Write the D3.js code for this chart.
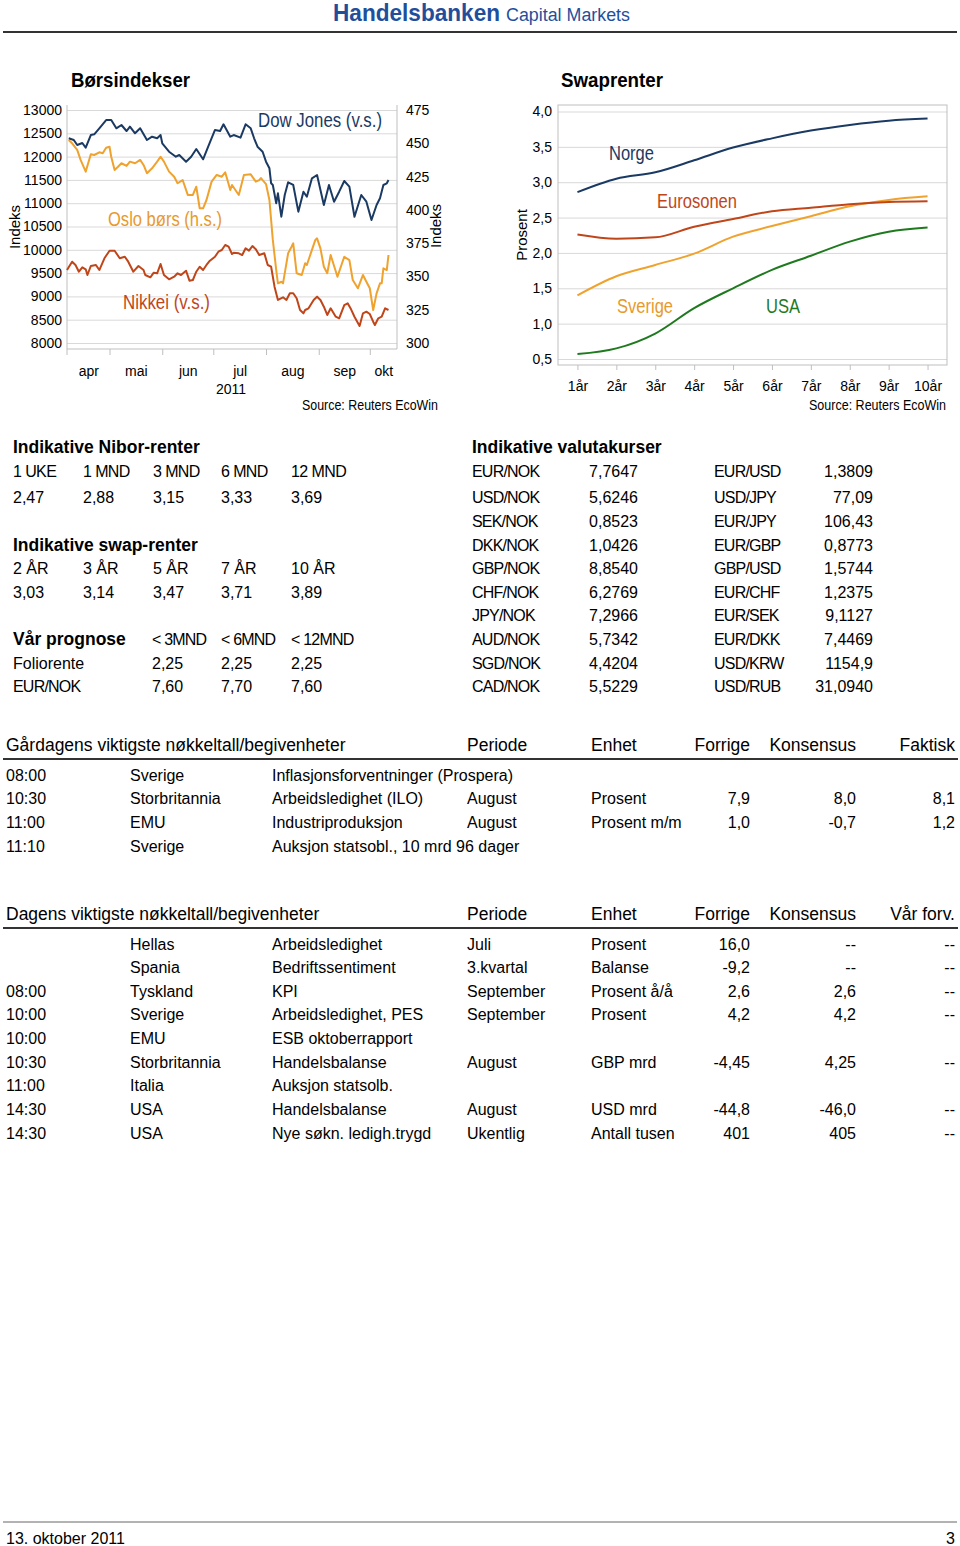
<!DOCTYPE html>
<html><head><meta charset="utf-8">
<script src="https://cdn.jsdelivr.net/npm/d3@7"></script>
<style>body{margin:0;background:#fff} svg{display:block}</style>
</head><body><script>
// ---------------- DATA ----------------
const monthNames = ["jan","feb","mar","apr","mai","jun","jul","aug","sep","okt","nov","des"];
const leftTicks = [8000,8500,9000,9500,10000,10500,11000,11500,12000,12500,13000];
const rightTicks = [300,325,350,375,400,425,450,475];

const dowJones = [["04-07",12393],["04-10",12356],["04-12",12249],["04-15",12292],["04-17",12191],["04-20",12463],["04-22",12478],["04-25",12607],["04-29",12785],["05-02",12785],["05-05",12607],["05-08",12678],["05-11",12549],["05-13",12642],["05-16",12500],["05-19",12607],["05-23",12356],["05-26",12427],["05-29",12393],["05-31",12463],["06-01",12285],["06-05",12105],["06-09",11998],["06-11",12034],["06-15",11891],["06-18",11998],["06-21",12163],["06-25",11942],["06-28",12212],["07-02",12571],["07-05",12549],["07-07",12693],["07-11",12427],["07-13",12463],["07-17",12406],["07-20",12693],["07-23",12607],["07-25",12393],["07-27",12212],["07-30",12105],["08-01",11891],["08-03",11749],["08-04",11427],["08-05",11391],["08-07",10998],["08-08",11212],["08-10",10710],["08-12",11176],["08-14",11448],["08-17",11391],["08-20",10818],["08-23",11247],["08-25",11139],["08-28",11534],["08-31",11605],["09-04",10961],["09-07",11391],["09-10",11032],["09-13",11247],["09-16",11476],["09-19",11354],["09-22",10710],["09-26",11176],["09-29",11032],["10-02",10639],["10-05",10961],["10-07",11105],["10-09",11391],["10-11",11427],["10-12",11498]];

const osloBors = [["04-07",452.5],["04-09",450],["04-12",445],["04-14",437.5],["04-17",428.7],["04-20",441.7],["04-22",441.2],["04-25",443.2],["04-27",442.5],["04-29",446.7],["05-01",447.4],["05-02",439.9],["05-04",430],["05-06",432.4],["05-08",435],["05-11",433],["05-13",436.2],["05-16",435],["05-19",437.5],["05-21",433.7],["05-23",427.5],["05-26",431.2],["05-29",436.2],["05-31",439.9],["06-02",436.2],["06-05",428.7],["06-08",424.9],["06-10",420],["06-13",422.4],["06-16",411.2],["06-19",411.2],["06-21",417.4],["06-23",401.2],["06-25",401.2],["06-27",407.4],["06-30",421.2],["07-03",426.2],["07-06",424.9],["07-08",428.2],["07-11",414.9],["07-12",418.7],["07-16",411.2],["07-19",426.2],["07-23",426.7],["07-26",421.2],["07-28",422.4],["07-29",423.9],["08-01",419.4],["08-03",407.4],["08-05",377.4],["08-07",354.8],["08-08",344.8],["08-10",346],["08-11",344.8],["08-14",367.4],["08-16",372.3],["08-17",374.9],["08-19",352.4],["08-22",351.1],["08-24",359.9],["08-25",358.6],["08-28",369.9],["08-30",377.4],["08-31",378.6],["09-02",371.1],["09-04",357.3],["09-06",352.4],["09-08",366.1],["09-12",349.8],["09-16",364.8],["09-19",362.3],["09-21",347.3],["09-24",341.1],["09-27",351.1],["09-29",346],["10-01",341.1],["10-03",324.8],["10-05",337.3],["10-07",344.8],["10-08",344.8],["10-09",356.1],["10-11",354.8],["10-12",366.1]];

const nikkei = [["04-06",9566],["04-09",9745],["04-11",9674],["04-13",9530],["04-15",9624],["04-17",9582],["04-18",9459],["04-20",9652],["04-23",9674],["04-25",9566],["04-28",9818],["05-01",9981],["05-04",9981],["05-07",9818],["05-10",9852],["05-12",9745],["05-15",9530],["05-18",9652],["05-21",9566],["05-22",9459],["05-25",9410],["05-27",9509],["05-29",9496],["05-31",9695],["06-02",9459],["06-05",9367],["06-08",9423],["06-10",9496],["06-12",9459],["06-15",9551],["06-17",9337],["06-19",9352],["06-21",9530],["06-23",9637],["06-25",9566],["06-27",9674],["06-29",9766],["07-02",9852],["07-04",9959],["07-06",9996],["07-08",10103],["07-10",10067],["07-12",9910],["07-13",9938],["07-16",9925],["07-18",9888],["07-20",10032],["07-22",9981],["07-24",10082],["07-26",10011],["07-28",9888],["07-31",9925],["08-02",9674],["08-04",9637],["08-06",9208],["08-08",8923],["08-11",8981],["08-13",8923],["08-15",9067],["08-17",9067],["08-19",8959],["08-21",8708],["08-23",8637],["08-24",8708],["08-26",8745],["08-29",8923],["08-31",8994],["09-02",8923],["09-04",8779],["09-06",8601],["09-08",8745],["09-11",8564],["09-13",8530],["09-16",8815],["09-18",8852],["09-20",8723],["09-22",8564],["09-25",8365],["09-27",8637],["09-29",8672],["10-01",8622],["10-03",8457],["10-04",8386],["10-06",8530],["10-08",8564],["10-10",8745],["10-12",8708]];

const swapTenors = ["1år","2år","3år","4år","5år","6år","7år","8år","9år","10år"];
const swapTicks = [0.5,1.0,1.5,2.0,2.5,3.0,3.5,4.0];
const norge     = [2.86,3.05,3.14,3.31,3.49,3.62,3.73,3.81,3.87,3.90];
const eurosonen = [2.26,2.20,2.22,2.37,2.48,2.59,2.64,2.69,2.72,2.73];
const sverige   = [1.40,1.67,1.83,1.99,2.23,2.38,2.52,2.66,2.75,2.80];
const usa       = [0.57,0.65,0.86,1.22,1.50,1.76,1.96,2.16,2.30,2.36];

const niborTenors = ["1 UKE","1 MND","3 MND","6 MND","12 MND"];
const niborValues = ["2,47","2,88","3,15","3,33","3,69"];
const swapTblTenors = ["2 ÅR","3 ÅR","5 ÅR","7 ÅR","10 ÅR"];
const swapTblValues = ["3,03","3,14","3,47","3,71","3,89"];
const prognoseHeads = ["< 3MND","< 6MND","< 12MND"];
const foliorente = ["2,25","2,25","2,25"];
const eurnokPrognose = ["7,60","7,70","7,60"];

const fxPairsA = ["EUR/NOK","USD/NOK","SEK/NOK","DKK/NOK","GBP/NOK","CHF/NOK","JPY/NOK","AUD/NOK","SGD/NOK","CAD/NOK"];
const fxValuesA = ["7,7647","5,6246","0,8523","1,0426","8,8540","6,2769","7,2966","5,7342","4,4204","5,5229"];
const fxPairsB = ["EUR/USD","USD/JPY","EUR/JPY","EUR/GBP","GBP/USD","EUR/CHF","EUR/SEK","EUR/DKK","USD/KRW","USD/RUB"];
const fxValuesB = ["1,3809","77,09","106,43","0,8773","1,5744","1,2375","9,1127","7,4469","1154,9","31,0940"];

const yesterdayHeader = ["Gårdagens viktigste nøkkeltall/begivenheter","Periode","Enhet","Forrige","Konsensus","Faktisk"];
const yesterdayRows = [
  ["08:00","Sverige","Inflasjonsforventninger (Prospera)","","","","",""],
  ["10:30","Storbritannia","Arbeidsledighet (ILO)","August","Prosent","7,9","8,0","8,1"],
  ["11:00","EMU","Industriproduksjon","August","Prosent m/m","1,0","-0,7","1,2"],
  ["11:10","Sverige","Auksjon statsobl., 10 mrd 96 dager","","","","",""]
];
const todayHeader = ["Dagens viktigste nøkkeltall/begivenheter","Periode","Enhet","Forrige","Konsensus","Vår forv."];
const todayRows = [
  ["","Hellas","Arbeidsledighet","Juli","Prosent","16,0","--","--"],
  ["","Spania","Bedriftssentiment","3.kvartal","Balanse","-9,2","--","--"],
  ["08:00","Tyskland","KPI","September","Prosent å/å","2,6","2,6","--"],
  ["10:00","Sverige","Arbeidsledighet, PES","September","Prosent","4,2","4,2","--"],
  ["10:00","EMU","ESB oktoberrapport","","","","",""],
  ["10:30","Storbritannia","Handelsbalanse","August","GBP mrd","-4,45","4,25","--"],
  ["11:00","Italia","Auksjon statsolb.","","","","",""],
  ["14:30","USA","Handelsbalanse","August","USD mrd","-44,8","-46,0","--"],
  ["14:30","USA","Nye søkn. ledigh.trygd","Ukentlig","Antall tusen","401","405","--"]
];

// ---------------- DRAW ----------------
const NARROW = "'Liberation Sans Narrow','Arial Narrow','Liberation Sans',Arial,sans-serif";
const SANS = "'Liberation Sans',Arial,Helvetica,sans-serif";
const C = {navy:"#1b3a63", orange:"#f0a22e", red:"#c0461a", green:"#1f7a1f", grid:"#d9d9d9", axis:"#bfbfbf", logo:"#1f4f9c"};

const svg = d3.select("body").append("svg").attr("width",960).attr("height",1546);
svg.append("rect").attr("width",960).attr("height",1546).attr("fill","#fff");

function txt(g,x,y,s,o={}){
  const t=g.append("text").attr("x",x).attr("y",y).attr("dy","0.35em").text(s)
    .attr("font-family",o.font||SANS).attr("font-size",o.size||16).attr("fill",o.color||"#000")
    .attr("text-anchor",o.anchor||"start");
  if(o.weight) t.attr("font-weight",o.weight);
  if(o.ls!==undefined) t.attr("letter-spacing",o.ls);
  if(o.len) t.attr("textLength",o.len).attr("lengthAdjust","spacingAndGlyphs");
  if(o.rotate) t.attr("transform",`rotate(${o.rotate},${x},${y})`);
  return t;
}

// header
txt(svg,333,13,"Handelsbanken",{font:NARROW,size:24,weight:"bold",color:C.logo,len:167});
txt(svg,506,15,"Capital Markets",{font:NARROW,size:18,color:C.logo,len:124});
svg.append("line").attr("x1",3).attr("x2",957).attr("y1",32).attr("y2",32).attr("stroke","#333").attr("stroke-width",2);

// ---------- Left chart: Børsindekser ----------
const parse = s => d3.timeParse("%Y-%m-%d")("2011-"+s);
const x0=67,x1=397,yTop=105,yBase=349;
const xL = d3.scaleTime().domain([new Date(2011,3,6),new Date(2011,9,17)]).range([x0,x1]);
const yL = d3.scaleLinear().domain([8000,13000]).range([343,110]);
const yR = d3.scaleLinear().domain([300,475]).range([343,110]);
const gL = svg.append("g");

txt(gL,71,80,"Børsindekser",{font:NARROW,size:21,weight:"bold",len:119});

// gridlines
gL.append("g").attr("transform",`translate(${x0},0)`)
  .call(d3.axisLeft(yL).tickValues(leftTicks).tickSize(-(x1-x0)).tickFormat(""))
  .call(g=>{g.select(".domain").remove(); g.selectAll("line").attr("stroke",C.grid);});
// axes lines
gL.append("line").attr("x1",x0).attr("x2",x0).attr("y1",yTop).attr("y2",yBase+6).attr("stroke",C.axis);
gL.append("line").attr("x1",x1).attr("x2",x1).attr("y1",yTop).attr("y2",yBase).attr("stroke",C.axis);
gL.append("line").attr("x1",x0).attr("x2",x1).attr("y1",yBase).attr("y2",yBase).attr("stroke",C.axis);
// left tick labels
gL.append("g").attr("transform",`translate(${x0},0)`)
  .call(d3.axisLeft(yL).tickValues(leftTicks).tickSize(0).tickPadding(5).tickFormat(d3.format("d")))
  .call(g=>{g.select(".domain").remove(); g.selectAll("text").attr("font-family",NARROW).attr("font-size",14).attr("fill","#000");});
// right tick labels
gL.append("g").attr("transform",`translate(${x1},0)`)
  .call(d3.axisRight(yR).tickValues(rightTicks).tickSize(0).tickPadding(9).tickFormat(d3.format("d")))
  .call(g=>{g.select(".domain").remove(); g.selectAll("text").attr("font-family",NARROW).attr("font-size",14).attr("fill","#000");});
// month tick marks
const monthStarts = d3.timeMonth.range(new Date(2011,4,1),new Date(2011,9,2));
gL.append("g").attr("transform",`translate(0,${yBase})`)
  .call(d3.axisBottom(xL).tickValues(monthStarts).tickSize(6).tickFormat(""))
  .call(g=>{g.select(".domain").remove(); g.selectAll("line").attr("stroke",C.axis);});
// month labels at mid of visible month span
const dom = xL.domain();
const monthMids = d3.timeMonth.range(d3.timeMonth.floor(dom[0]),dom[1]).map(m=>{
  const a = m<dom[0]?dom[0]:m, nxt=d3.timeMonth.offset(m,1), b = nxt>dom[1]?dom[1]:nxt;
  return new Date((+a + +b)/2);
});
gL.append("g").attr("transform",`translate(0,${yBase})`)
  .call(d3.axisBottom(xL).tickValues(monthMids).tickSize(0).tickFormat(d=>monthNames[d.getMonth()]))
  .call(g=>{g.select(".domain").remove(); g.selectAll("text").attr("y",22).attr("dy","0.35em").attr("font-family",NARROW).attr("font-size",14).attr("fill","#000");});
txt(gL,231,389,"2011",{font:NARROW,size:14,anchor:"middle"});

txt(gL,15,227,"Indeks",{font:SANS,size:15,anchor:"middle",rotate:-90});
txt(gL,436,226,"Indeks",{font:SANS,size:15,anchor:"middle",rotate:-90});
txt(gL,438,405,"Source: Reuters EcoWin",{font:NARROW,size:14,anchor:"end",len:136});

const lineL = d3.line().x(d=>xL(parse(d[0]))).y(d=>yL(d[1]));
const lineR = d3.line().x(d=>xL(parse(d[0]))).y(d=>yR(d[1]));
gL.append("path").datum(nikkei).attr("d",lineL).attr("fill","none").attr("stroke",C.red).attr("stroke-width",2).attr("stroke-linejoin","round");
gL.append("path").datum(osloBors).attr("d",lineR).attr("fill","none").attr("stroke",C.orange).attr("stroke-width",2).attr("stroke-linejoin","round");
gL.append("path").datum(dowJones).attr("d",lineL).attr("fill","none").attr("stroke",C.navy).attr("stroke-width",2).attr("stroke-linejoin","round");

txt(gL,258,120,"Dow Jones (v.s.)",{font:NARROW,size:21,color:C.navy,len:124});
txt(gL,108,219,"Oslo børs (h.s.)",{font:NARROW,size:21,color:"#e8992c",len:114});
txt(gL,123,302,"Nikkei (v.s.)",{font:NARROW,size:21,color:C.red,len:87});

// ---------- Right chart: Swaprenter ----------
const gS = svg.append("g");
const sx0=558,sx1=947,syTop=105,syBase=365;
const xS = d3.scalePoint().domain(swapTenors).range([sx0,sx1]).padding(0.5);
const yS = d3.scaleLinear().domain([0.5,4.0]).range([359,111.5]);
txt(gS,561,80,"Swaprenter",{font:NARROW,size:21,weight:"bold",len:102});
gS.append("g").attr("transform",`translate(${sx0},0)`)
  .call(d3.axisLeft(yS).tickValues(swapTicks).tickSize(-(sx1-sx0)).tickFormat(""))
  .call(g=>{g.select(".domain").remove(); g.selectAll("line").attr("stroke",C.grid);});
gS.append("rect").attr("x",sx0).attr("y",syTop).attr("width",sx1-sx0).attr("height",syBase-syTop).attr("fill","none").attr("stroke",C.axis);
gS.append("g").attr("transform",`translate(${sx0},0)`)
  .call(d3.axisLeft(yS).tickValues(swapTicks).tickSize(0).tickPadding(6).tickFormat(d=>d3.format(".1f")(d).replace(".",",")))
  .call(g=>{g.select(".domain").remove(); g.selectAll("text").attr("font-family",NARROW).attr("font-size",14).attr("fill","#000");});
gS.append("g").attr("transform",`translate(0,${syBase})`)
  .call(d3.axisBottom(xS).tickSize(5).tickPadding(0))
  .call(g=>{g.select(".domain").remove(); g.selectAll("line").attr("stroke",C.axis);
    g.selectAll("text").attr("y",21).attr("dy","0.35em").attr("font-family",NARROW).attr("font-size",14).attr("fill","#000");});
txt(gS,522,235,"Prosent",{font:SANS,size:15,anchor:"middle",rotate:-90});
txt(gS,946,405,"Source: Reuters EcoWin",{font:NARROW,size:14,anchor:"end",len:137});

const lineS = d3.line().x((d,i)=>xS(swapTenors[i])).y(d=>yS(d)).curve(d3.curveMonotoneX);
[[usa,C.green],[sverige,C.orange],[eurosonen,C.red],[norge,C.navy]].forEach(([s,c])=>{
  gS.append("path").datum(s).attr("d",lineS).attr("fill","none").attr("stroke",c).attr("stroke-width",2);
});
txt(gS,609,153,"Norge",{font:NARROW,size:21,color:C.navy,len:45});
txt(gS,657,201,"Eurosonen",{font:NARROW,size:21,color:C.red,len:80});
txt(gS,617,306,"Sverige",{font:NARROW,size:21,color:"#e8992c",len:56});
txt(gS,766,306,"USA",{font:NARROW,size:21,color:C.green,len:34});

// ---------- Tables ----------
const gT = svg.append("g");
const nCols=[13,83,153,221,291];
txt(gT,13,447,"Indikative Nibor-renter",{size:17.5,weight:"bold"});
niborTenors.forEach((s,i)=>txt(gT,nCols[i],471,s,{ls:-0.6}));
niborValues.forEach((s,i)=>txt(gT,nCols[i],497,s));
txt(gT,13,545,"Indikative swap-renter",{size:17.5,weight:"bold"});
swapTblTenors.forEach((s,i)=>txt(gT,nCols[i],568,s));
swapTblValues.forEach((s,i)=>txt(gT,nCols[i],592,s));
txt(gT,13,639,"Vår prognose",{size:17.5,weight:"bold"});
const pCols=[152,221,291];
prognoseHeads.forEach((s,i)=>txt(gT,pCols[i],639,s,{ls:-0.8}));
txt(gT,13,663,"Foliorente");
foliorente.forEach((s,i)=>txt(gT,pCols[i],663,s));
txt(gT,13,686,"EUR/NOK",{ls:-0.8});
eurnokPrognose.forEach((s,i)=>txt(gT,pCols[i],686,s));

txt(gT,472,447,"Indikative valutakurser",{size:17.5,weight:"bold"});
const fxY=[471,497,521,545,568,592,615,639,663,686];
fxPairsA.forEach((s,i)=>txt(gT,472,fxY[i],s,{ls:-0.8}));
fxValuesA.forEach((s,i)=>txt(gT,638,fxY[i],s,{anchor:"end"}));
fxPairsB.forEach((s,i)=>txt(gT,714,fxY[i],s,{ls:-0.8}));
fxValuesB.forEach((s,i)=>txt(gT,873,fxY[i],s,{anchor:"end"}));

function eventTable(header,rows,yHead,yLine,rowYs){
  const hx=[6,467,591,750,856,955], ha=["start","start","start","end","end","end"];
  header.forEach((s,i)=>txt(gT,hx[i],yHead,s,{size:17.5,anchor:ha[i]}));
  gT.append("line").attr("x1",3).attr("x2",958).attr("y1",yLine).attr("y2",yLine).attr("stroke","#333").attr("stroke-width",2);
  const cx=[6,130,272,467,591,750,856,955], ca=["start","start","start","start","start","end","end","end"];
  rows.forEach((r,j)=>r.forEach((s,i)=>{ if(s) txt(gT,cx[i],rowYs[j],s,{anchor:ca[i]}); }));
}
eventTable(yesterdayHeader,yesterdayRows,745,759,[775,798,822,846]);
eventTable(todayHeader,todayRows,914,928,[944,967,991,1014,1038,1062,1085,1109,1133]);

// footer
svg.append("line").attr("x1",3).attr("x2",957).attr("y1",1522).attr("y2",1522).attr("stroke","#666").attr("stroke-width",1);
txt(svg,6,1538,"13. oktober 2011",{size:16});
txt(svg,955,1538,"3",{size:16,anchor:"end"});
</script></body></html>
